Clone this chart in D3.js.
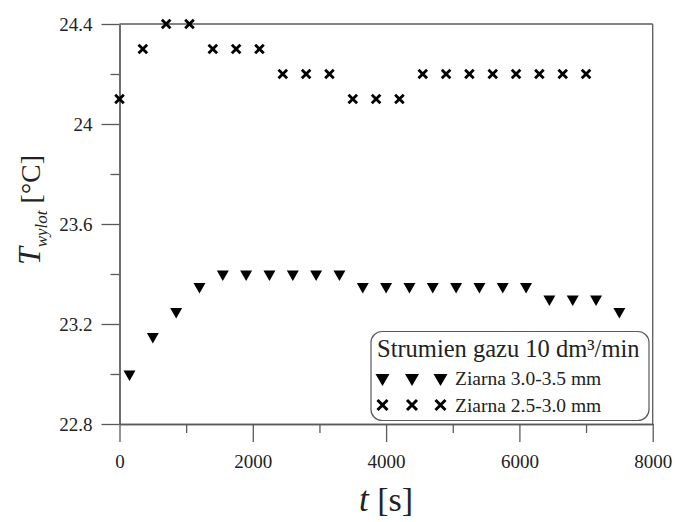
<!DOCTYPE html>
<html>
<head>
<meta charset="utf-8">
<script src="https://cdn.jsdelivr.net/npm/d3@7"></script>
<style>
  body { margin: 0; background: #fff; }
  svg { display: block; font-family: "Liberation Serif", "Times New Roman", serif; }
</style>
</head>
<body>
<div id="chart"></div>
<script>
// data
var timeTri = [150, 500, 850, 1200, 1550, 1900, 2250, 2600, 2950, 3300, 3650, 4000, 4350, 4700, 5050, 5400, 5750, 6100, 6450, 6800, 7150, 7500];
var tempTri = [23.0, 23.15, 23.25, 23.35, 23.4, 23.4, 23.4, 23.4, 23.4, 23.4, 23.35, 23.35, 23.35, 23.35, 23.35, 23.35, 23.35, 23.35, 23.3, 23.3, 23.3, 23.25];
var timeCross = [0, 350, 700, 1050, 1400, 1750, 2100, 2450, 2800, 3150, 3500, 3850, 4200, 4550, 4900, 5250, 5600, 5950, 6300, 6650, 7000];
var tempCross = [24.1, 24.3, 24.4, 24.4, 24.3, 24.3, 24.3, 24.2, 24.2, 24.2, 24.1, 24.1, 24.1, 24.2, 24.2, 24.2, 24.2, 24.2, 24.2, 24.2, 24.2];
var xMajor = [0, 2000, 4000, 6000, 8000];
var xMinor = [1000, 3000, 5000, 7000];
var yMajor = [22.8, 23.2, 23.6, 24, 24.4];
var yMinor = [23.0, 23.4, 23.8, 24.2];
var legendTitle = "Strumien gazu 10 dm³/min";
var seriesNames = ["Ziarna 3.0-3.5 mm", "Ziarna 2.5-3.0 mm"];

var width = 675, height = 522;
var plotLeft = 119.5, plotRight = 652.7, plotTop = 24, plotBottom = 424;
var axisColor = "#5a5a5a";

var svg = d3.select("#chart").append("svg")
    .attr("width", width)
    .attr("height", height);

var x = d3.scaleLinear().domain([0, 8000]).range([plotLeft, plotRight]);
var y = d3.scaleLinear().domain([22.8, 24.4]).range([plotBottom, plotTop]);

function styleAxis(g) {
    g.select(".domain").attr("stroke", axisColor).attr("stroke-width", 1.3);
    g.selectAll(".tick line").attr("stroke", axisColor).attr("stroke-width", 1.3);
    g.selectAll(".tick text").attr("fill", "#222").style("font-size", "19px")
        .style("font-family", "'Liberation Serif', serif");
}

// minor ticks first
svg.append("g")
    .attr("transform", "translate(0," + plotBottom + ")")
    .call(d3.axisBottom(x).tickValues(xMinor).tickSize(9).tickFormat("").tickSizeOuter(0))
    .call(styleAxis);
svg.append("g")
    .attr("transform", "translate(" + plotLeft + ",0)")
    .call(d3.axisLeft(y).tickValues(yMinor).tickSize(9).tickFormat("").tickSizeOuter(0))
    .call(styleAxis);

// major ticks
svg.append("g")
    .attr("transform", "translate(0," + plotBottom + ")")
    .call(d3.axisBottom(x).tickValues(xMajor).tickSize(18).tickPadding(13).tickSizeOuter(0)
        .tickFormat(d3.format("d")))
    .call(styleAxis);
svg.append("g")
    .attr("transform", "translate(" + plotLeft + ",0)")
    .call(d3.axisLeft(y).tickValues(yMajor).tickSize(18).tickPadding(9).tickSizeOuter(0)
        .tickFormat(function(d) { return d3.format("~g")(d); }))
    .call(styleAxis);

// frame top and right
svg.append("line")
    .attr("x1", plotLeft).attr("x2", plotRight).attr("y1", plotTop).attr("y2", plotTop)
    .attr("stroke", axisColor).attr("stroke-width", 1.3);
svg.append("line")
    .attr("x1", plotRight).attr("x2", plotRight).attr("y1", plotTop).attr("y2", plotBottom)
    .attr("stroke", axisColor).attr("stroke-width", 1.3);

// markers
var triangle = d3.symbol().type(d3.symbolTriangle);
function crossPath(r) {
    return "M" + (-r) + "," + (-r) + "L" + r + "," + r + "M" + (-r) + "," + r + "L" + r + "," + (-r);
}

var triData = timeTri.map(function(t, i) { return { t: t, v: tempTri[i] }; });
var crossData = timeCross.map(function(t, i) { return { t: t, v: tempCross[i] }; });

svg.append("g").selectAll("path")
    .data(triData).enter()
    .append("path")
    .attr("d", triangle.size(62)())
    .attr("transform", function(d) { return "translate(" + x(d.t) + "," + y(d.v) + ") rotate(180)"; })
    .attr("fill", "#000");

svg.append("g").selectAll("path")
    .data(crossData).enter()
    .append("path")
    .attr("d", crossPath(4.3))
    .attr("transform", function(d) { return "translate(" + x(d.t) + "," + y(d.v) + ")"; })
    .attr("stroke", "#000")
    .attr("stroke-width", 2.8)
    .attr("fill", "none");

// legend
var lg = svg.append("g");
lg.append("rect")
    .attr("x", 371).attr("y", 331.5)
    .attr("width", 278).attr("height", 89)
    .attr("rx", 11).attr("ry", 11)
    .attr("fill", "#fff")
    .attr("stroke", axisColor)
    .attr("stroke-width", 1.2);
lg.append("text")
    .attr("x", 377).attr("y", 357)
    .attr("fill", "#222")
    .style("font-size", "24.5px")
    .text(legendTitle);

var legendMarkX = [382.5, 412, 440.5];
var rowY = [378, 405];
legendMarkX.forEach(function(mx) {
    lg.append("path")
        .attr("d", triangle.size(85)())
        .attr("transform", "translate(" + mx + "," + rowY[0] + ") rotate(180)")
        .attr("fill", "#000");
    lg.append("path")
        .attr("d", crossPath(5))
        .attr("transform", "translate(" + mx + "," + rowY[1] + ")")
        .attr("stroke", "#000")
        .attr("stroke-width", 3)
        .attr("fill", "none");
});
seriesNames.forEach(function(name, i) {
    lg.append("text")
        .attr("x", 455).attr("y", rowY[i] + 7)
        .attr("fill", "#222")
        .style("font-size", "19.5px")
        .text(name);
});

// axis titles
var yTitle = svg.append("text")
    .attr("transform", "translate(40,210) rotate(-90)")
    .attr("text-anchor", "middle")
    .attr("fill", "#222");
yTitle.append("tspan").style("font-size", "32px").style("font-style", "italic").text("T");
yTitle.append("tspan").style("font-size", "17px").style("font-style", "italic")
    .attr("dy", 7).text("wylot");
yTitle.append("tspan").style("font-size", "28px").attr("dy", -7).text(" [°C]");

var xTitle = svg.append("text")
    .attr("x", 386).attr("y", 511)
    .attr("text-anchor", "middle")
    .attr("fill", "#222");
xTitle.append("tspan").style("font-size", "35px").style("font-style", "italic").text("t");
xTitle.append("tspan").style("font-size", "34px").text(" [s]");
</script>
</body>
</html>
